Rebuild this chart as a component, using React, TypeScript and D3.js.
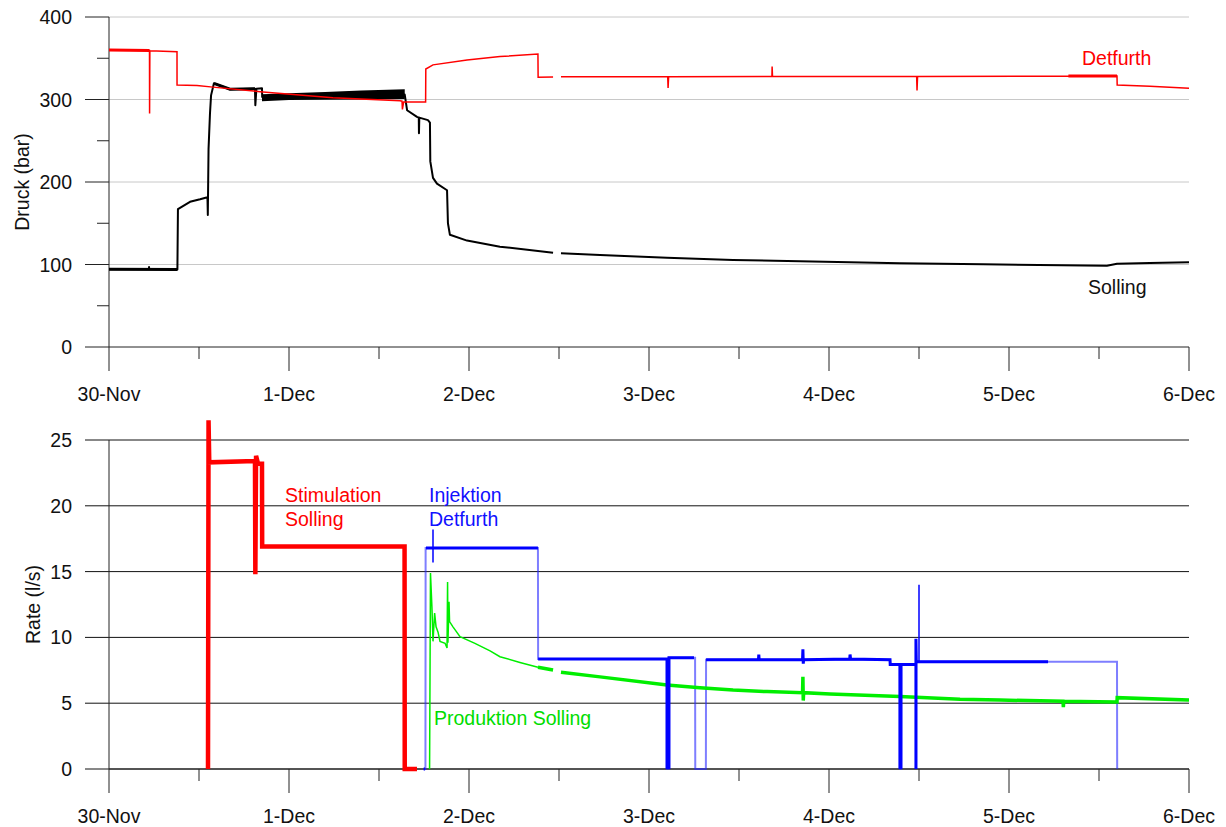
import React from "react";
import * as d3 from "d3";

// ---------- DATA (t = days since 30-Nov 00:00) ----------
const dayLabels = ["30-Nov", "1-Dec", "2-Dec", "3-Dec", "4-Dec", "5-Dec", "6-Dec"];
const pressureTicks = [0, 100, 200, 300, 400];
const pressureMinorTicks = [50, 150, 250, 350];
const rateTicks = [0, 5, 10, 15, 20, 25];

// Druck Detfurth (bar)
const detfurthPressure: [number, number][] = [
  [0, 360], [0.225, 359.5], [0.2255, 283], [0.227, 359], [0.3778, 358], [0.378, 317.5],
  [0.489, 317], [0.578, 315], [0.839, 309.5], [1.244, 302], [1.617, 298.5],
  [1.628, 298], [1.63, 288], [1.637, 297], [1.759, 297], [1.76, 337], [1.8, 342],
  [1.989, 348], [2.172, 352], [2.383, 355], [2.384, 327], [2.467, 327.2], [NaN, NaN],
  [2.511, 327.5], [3.104, 327.6], [3.106, 314], [3.109, 327.6], [3.683, 328],
  [3.684, 340], [3.686, 328], [4.487, 328], [4.489, 311], [4.492, 328], [5.328, 328.3],
  [5.6, 328.5], [5.601, 317.5], [5.783, 316], [6.0, 313.6],
];
const detfurthThick: [number, number][] = [[0, 360], [0.225, 359.5], [NaN, NaN], [5.33, 328.5], [5.6, 328.5]];

// Druck Solling (bar)
const sollingPressure: [number, number][] = [
  [0, 94.2], [0.222, 94.5], [0.2225, 97], [0.223, 94.3], [0.38, 94], [0.383, 167], [0.45, 176],
  [0.506, 179], [0.547, 181.5], [0.549, 160], [0.553, 240], [0.561, 283], [0.567, 305],
  [0.583, 319.6], [0.672, 312.5], [0.811, 313], [0.813, 293], [0.819, 313], [0.85, 313.5],
  [0.851, 303], [1.643, 306], [1.656, 287], [1.711, 279], [1.721, 278], [1.722, 259],
  [1.724, 278], [1.772, 275], [1.783, 272], [1.785, 225], [1.8, 205], [1.822, 198],
  [1.878, 190], [1.883, 150], [1.894, 136], [1.989, 129], [2.172, 121.6], [2.467, 114.3],
  [NaN, NaN], [2.511, 113.5], [2.728, 111.5], [3.1, 108.2], [3.467, 105.5], [3.839, 103.9],
  [4.394, 101.5], [4.856, 100.2], [5.544, 98.6], [5.6, 101], [5.783, 101.8], [6.0, 102.7],
];
const sollingThick: [number, number][] = [[0, 94.2], [0.38, 94], [NaN, NaN], [0.583, 319.6], [0.672, 312.5], [0.811, 313]];
// oscillation band of Solling pressure [t, low, high]
const sollingBand: [number, number, number][] = [
  [0.85, 297.8, 306.5], [1.0, 299.3, 307.5], [1.2, 299.8, 309], [1.4, 300, 311], [1.643, 300.5, 312.5],
];

// Rate Stimulation Solling (l/s)
const stimulationRate: [number, number][] = [
  [0.55, 0], [0.553, 26.5], [0.557, 23.3], [0.811, 23.4], [0.813, 14.8], [0.817, 23.8],
  [0.828, 23.2], [0.85, 23.2], [0.851, 16.9], [1.642, 16.9], [1.643, 0], [1.711, 0],
];

// Rate Injektion Detfurth (l/s) – full trace (thin)
const injektionRate: [number, number][] = [
  [1.75, 0], [1.758, 0], [1.759, 16.8], [2.383, 16.8], [2.384, 8.35], [3.1, 8.35], [3.101, 0],
  [3.11, 0], [3.111, 8.45], [3.256, 8.45], [3.257, 0], [3.316, 0], [3.317, 8.3], [4.339, 8.3],
  [4.34, 7.95], [4.394, 7.95], [4.395, 0], [4.4, 0], [4.401, 7.95], [4.483, 7.95], [4.484, 0],
  [4.485, 8.15], [5.6, 8.15], [5.601, 0],
];
// Rate Injektion Detfurth – dense logged segments (thick)
const injektionDense: [number, number][] = [
  [1.748, 0], [1.756, 0], [NaN, NaN],
  [1.761, 16.8], [2.383, 16.8], [NaN, NaN],
  [2.384, 8.35], [3.1, 8.35], [3.1, 0], [NaN, NaN],
  [3.111, 0], [3.111, 8.45], [3.25, 8.45], [NaN, NaN],
  [3.317, 8.3], [3.608, 8.3], [3.61, 8.7], [3.612, 8.3], [3.853, 8.3], [3.855, 9.1],
  [3.857, 8.0], [3.859, 8.3], [4.115, 8.35], [4.117, 8.7], [4.12, 8.35], [4.339, 8.3],
  [4.34, 7.95], [4.394, 7.95], [4.394, 0], [NaN, NaN],
  [4.4, 0], [4.4, 7.95], [4.481, 7.95], [NaN, NaN],
  [4.483, 0], [4.483, 9.9], [4.485, 8.15], [5.217, 8.15],
];
const injektionSpikes: [number, number][] = [
  [1.8, 15.7], [1.8, 18.2], [NaN, NaN], [4.5, 8.15], [4.5, 14.0],
];

// Rate Produktion Solling (l/s)
const produktionEarly: [number, number][] = [
  [1.781, 0], [1.786, 14.9], [1.794, 12.3], [1.8, 9.7], [1.809, 11.85], [1.817, 10.8],
  [1.828, 10.4], [1.839, 9.7], [1.867, 9.55], [1.878, 9.2], [1.881, 14.2], [1.883, 9.6],
  [1.889, 12.7], [1.892, 11.2], [1.911, 10.8], [1.95, 10.05], [2.033, 9.55], [2.117, 8.97],
  [2.172, 8.53], [2.283, 8.1], [2.383, 7.73],
];
const produktionLate: [number, number][] = [
  [2.383, 7.73], [2.467, 7.52], [NaN, NaN], [2.511, 7.35], [2.728, 7.0], [3.1, 6.38],
  [3.283, 6.18], [3.467, 6.0], [3.656, 5.88], [3.853, 5.8], [3.855, 7.0], [3.857, 5.2],
  [3.859, 5.8], [4.006, 5.7], [4.394, 5.5], [4.728, 5.3], [4.95, 5.24], [5.3, 5.15],
  [5.302, 4.7], [5.304, 5.15], [5.6, 5.1], [5.601, 5.42], [6.0, 5.24],
];

// ---------- LAYOUT ----------
const W = 1226, H = 827;
const X0 = 109, X1 = 1189;
const TOP = { y0: 347, y1: 17 };
const BOT = { y0: 769, y1: 440 };
const FONT = "'Liberation Sans', Arial, Helvetica, sans-serif";

export default function App() {
  const x = d3.scaleLinear().domain([0, 6]).range([X0, X1]);
  const yP = d3.scaleLinear().domain([0, 400]).range([TOP.y0, TOP.y1]);
  const yR = d3.scaleLinear().domain([0, 25]).range([BOT.y0, BOT.y1]);

  const lineP = d3.line<[number, number]>().defined((d) => !isNaN(d[0])).x((d) => x(d[0])).y((d) => yP(d[1]));
  const lineR = d3.line<[number, number]>().defined((d) => !isNaN(d[0])).x((d) => x(d[0])).y((d) => yR(d[1]));
  const bandArea = d3.area<[number, number, number]>().x((d) => x(d[0])).y0((d) => yP(d[1])).y1((d) => yP(d[2]));

  const majors = d3.range(0, 7);
  const minors = d3.range(0.5, 6, 1);

  const xAxis = (y0: number) => (
    <g>
      <line x1={X0} x2={X1} y1={y0} y2={y0} stroke="#222" strokeWidth={1} />
      {majors.map((d) => (
        <line key={"M" + d} x1={x(d)} x2={x(d)} y1={y0} y2={y0 + 24} stroke="#222" strokeWidth={1} />
      ))}
      {minors.map((d) => (
        <line key={"m" + d} x1={x(d)} x2={x(d)} y1={y0} y2={y0 + 12} stroke="#222" strokeWidth={1} />
      ))}
      {majors.map((d, i) => (
        <text key={"L" + d} x={x(d)} y={y0 + 54} textAnchor="middle" fontSize={19.5} fill="#111" fontFamily={FONT}>
          {dayLabels[i]}
        </text>
      ))}
    </g>
  );

  return (
    <div style={{ position: "absolute", left: 0, top: 0, width: W, height: H, background: "#fff" }}>
      <svg width={W} height={H} viewBox={`0 0 ${W} ${H}`} style={{ display: "block" }}>
        <rect x={0} y={0} width={W} height={H} fill="#fff" />

        {/* ---------- TOP PANEL ---------- */}
        {pressureTicks.filter((d) => d > 0).map((d) => (
          <line key={"gp" + d} x1={X0} x2={X1} y1={yP(d)} y2={yP(d)} stroke="#c8c8c8" strokeWidth={1} />
        ))}
        <line x1={X0} x2={X0} y1={yP(400)} y2={yP(0)} stroke="#222" strokeWidth={1} />
        {pressureTicks.map((d) => (
          <g key={"tp" + d}>
            <line x1={X0 - 24} x2={X0} y1={yP(d)} y2={yP(d)} stroke="#222" strokeWidth={1} />
            <text x={72} y={yP(d) + 7} textAnchor="end" fontSize={19.5} fill="#111" fontFamily={FONT}>{d}</text>
          </g>
        ))}
        {pressureMinorTicks.map((d) => (
          <line key={"tpm" + d} x1={X0 - 12} x2={X0} y1={yP(d)} y2={yP(d)} stroke="#222" strokeWidth={1} />
        ))}
        {xAxis(TOP.y0)}
        <text transform={`translate(29, ${(TOP.y0 + TOP.y1) / 2}) rotate(-90)`} textAnchor="middle" fontSize={19.5} fill="#111" fontFamily={FONT}>
          Druck (bar)
        </text>

        <path d={bandArea(sollingBand) || ""} fill="#000" />
        <path d={lineP(sollingPressure) || ""} fill="none" stroke="#000" strokeWidth={2} strokeLinejoin="round" />
        <path d={lineP(sollingThick) || ""} fill="none" stroke="#000" strokeWidth={3} />
        <path d={lineP(detfurthPressure) || ""} fill="none" stroke="#ff0000" strokeWidth={1.5} />
        <path d={lineP(detfurthThick) || ""} fill="none" stroke="#ff0000" strokeWidth={3} />

        <text x={1082} y={65} fontSize={19.5} fill="#ff0000" fontFamily={FONT}>Detfurth</text>
        <text x={1088} y={294} fontSize={19.5} fill="#111" fontFamily={FONT}>Solling</text>

        {/* ---------- BOTTOM PANEL ---------- */}
        {rateTicks.map((d) => (
          <g key={"tr" + d}>
            <line x1={X0 - 24} x2={X1} y1={yR(d)} y2={yR(d)} stroke="#111" strokeWidth={1} />
            <text x={72} y={yR(d) + 7} textAnchor="end" fontSize={19.5} fill="#111" fontFamily={FONT}>{d}</text>
          </g>
        ))}
        <line x1={X0} x2={X0} y1={yR(25)} y2={yR(0)} stroke="#222" strokeWidth={1} />
        {xAxis(BOT.y0)}
        <text transform={`translate(40, ${(BOT.y0 + BOT.y1) / 2}) rotate(-90)`} textAnchor="middle" fontSize={19.5} fill="#111" fontFamily={FONT}>
          Rate (l/s)
        </text>

        <path d={lineR(injektionRate) || ""} fill="none" stroke="rgba(40,40,255,0.6)" strokeWidth={2} />
        <path d={lineR(produktionEarly) || ""} fill="none" stroke="#00ee00" strokeWidth={1.5} />
        <path d={lineR(produktionLate) || ""} fill="none" stroke="#00ee00" strokeWidth={3.5} />
        <path d={lineR(injektionDense) || ""} fill="none" stroke="#0000ff" strokeWidth={3} />
        <path d={lineR(injektionSpikes) || ""} fill="none" stroke="#0000ff" strokeWidth={1.5} />
        <path d={lineR(stimulationRate) || ""} fill="none" stroke="#ff0000" strokeWidth={4.5} strokeLinejoin="miter" />

        <text x={285} y={502} fontSize={19.5} fill="#ff0000" fontFamily={FONT}>Stimulation</text>
        <text x={285} y={526} fontSize={19.5} fill="#ff0000" fontFamily={FONT}>Solling</text>
        <text x={429} y={502} fontSize={19.5} fill="#1010ff" fontFamily={FONT}>Injektion</text>
        <text x={429} y={526} fontSize={19.5} fill="#1010ff" fontFamily={FONT}>Detfurth</text>
        <text x={434} y={725} fontSize={19.5} fill="#00dd00" fontFamily={FONT}>Produktion Solling</text>
      </svg>
    </div>
  );
}
